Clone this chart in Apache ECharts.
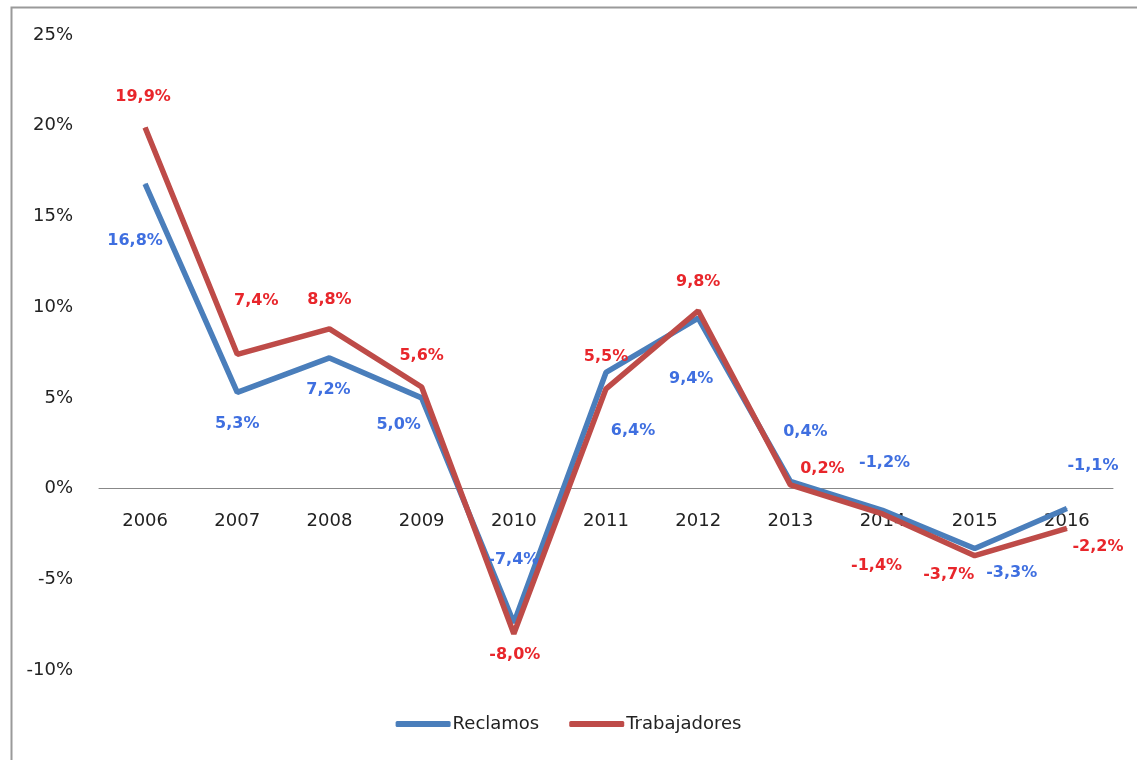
<!DOCTYPE html>
<html>
<head>
<meta charset="utf-8">
<script src="https://cdn.jsdelivr.net/npm/echarts@6/dist/echarts.min.js"></script>
<style>
html,body{margin:0;padding:0;background:#fff;}
#chart{width:1137px;height:760px;}
</style>
</head>
<body>
<div id="chart"></div>
<script>
const years = ['2006','2007','2008','2009','2010','2011','2012','2013','2014','2015','2016'];
const reclamos = [16.8, 5.3, 7.2, 5.0, -7.4, 6.4, 9.4, 0.4, -1.2, -3.3, -1.1];
const trabajadores = [19.9, 7.4, 8.8, 5.6, -8.0, 5.5, 9.8, 0.2, -1.4, -3.7, -2.2];
const seriesNames = ['Reclamos', 'Trabajadores'];
const yMin = -10, yMax = 25, yStep = 5;

// label placement offsets (style only)
const reclamosOffsets = [[-10,57],[0,31],[-1,32],[-23,27],[0,-63],[27,58],[-7,61],[15,-49],[2,-47],[37,24],[26,-43]];
const trabajadoresOffsets = [[-2,-31],[19,-53],[0,-29],[0,-31],[1,21],[0,-32],[0,-29],[32,-16],[-6,52],[-26,19],[31,18]];

const fmt = v => v.toFixed(1).replace('.', ',') + '%';

function mkData(vals, offs) {
  return vals.map((v, i) => ({ value: v, label: { offset: offs[i] } }));
}

const gridTop = 35, gridBottom = 90, chartH = 760;
const plotH = chartH - gridTop - gridBottom;
const zeroFromBottom = plotH * (0 - yMin) / (yMax - yMin);

const chart = echarts.init(document.getElementById('chart'), null, {renderer: 'canvas'});
chart.setOption({
  animation: false,
  backgroundColor: '#fff',
  graphic: [{
    type: 'rect',
    left: 9, top: 5,
    shape: { width: 1140, height: 770 },
    style: { fill: 'none', stroke: '#9a9a9a', lineWidth: 2 },
    silent: true, z: -1
  }],
  grid: { left: 99, right: 24, top: gridTop, bottom: gridBottom, containLabel: false },
  legend: {
    bottom: 22,
    left: 'center',
    itemWidth: 55,
    itemHeight: 6,
    itemGap: 30,
    icon: 'roundRect',
    textStyle: { fontFamily: 'DejaVu Sans', fontSize: 18, color: '#222', padding: [0,0,0,-3] },
    data: seriesNames
  },
  xAxis: {
    type: 'category',
    data: years,
    boundaryGap: true,
    offset: -zeroFromBottom,
    axisLine: { onZero: false, lineStyle: { color: '#888', width: 1 } },
    axisTick: { show: false },
    axisLabel: { fontFamily: 'DejaVu Sans', fontSize: 18, color: '#222', margin: 24 },
    splitLine: { show: false }
  },
  yAxis: {
    type: 'value',
    min: yMin, max: yMax, interval: yStep,
    axisLine: { show: false },
    axisTick: { show: false },
    splitLine: { show: false },
    axisLabel: { fontFamily: 'DejaVu Sans', fontSize: 18, color: '#222', margin: 26, formatter: v => v + '%' }
  },
  series: [
    {
      name: seriesNames[0],
      type: 'line',
      data: mkData(reclamos, reclamosOffsets),
      symbol: 'circle', symbolSize: 1, showSymbol: true,
      color: '#4a7ebb',
      lineStyle: { color: '#4a7ebb', width: 5.5 },
      itemStyle: { color: '#4a7ebb' },
      label: {
        show: true, position: 'inside',
        fontFamily: 'DejaVu Sans', fontWeight: 'bold', fontSize: 16, color: '#3f6fe0',
        formatter: p => fmt(p.value)
      },
      z: 2
    },
    {
      name: seriesNames[1],
      type: 'line',
      data: mkData(trabajadores, trabajadoresOffsets),
      symbol: 'circle', symbolSize: 1, showSymbol: true,
      color: '#be4b48',
      lineStyle: { color: '#be4b48', width: 5.5 },
      itemStyle: { color: '#be4b48' },
      label: {
        show: true, position: 'inside',
        fontFamily: 'DejaVu Sans', fontWeight: 'bold', fontSize: 16, color: '#e8262b',
        formatter: p => fmt(p.value)
      },
      z: 3
    }
  ]
});
</script>
</body>
</html>
